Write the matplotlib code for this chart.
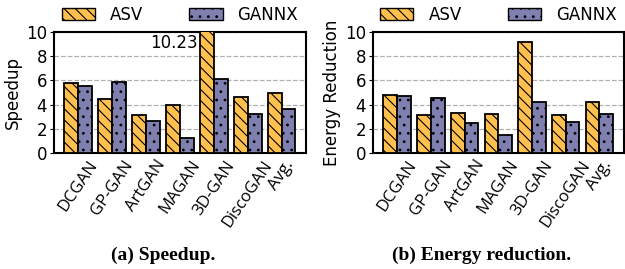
import numpy as np
import matplotlib
matplotlib.use("Agg")
from matplotlib import pyplot as plt
from matplotlib.patches import Patch

models = ["DCGAN", "GP-GAN", "ArtGAN", "MAGAN", "3D-GAN", "DiscoGAN", "Avg."]
speedup_asv = [5.75, 4.44, 3.15, 3.97, 10.23, 4.6, 4.93]
speedup_gannx = [5.53, 5.86, 2.63, 1.26, 6.1, 3.2, 3.64]
energy_asv = [4.8, 3.15, 3.34, 3.23, 9.12, 3.12, 4.19]
energy_gannx = [4.71, 4.52, 2.52, 1.5, 4.22, 2.6, 3.2]

orange = "#FFC04D"
purple = "#7F80B0"
plt.rcParams["hatch.linewidth"] = 0.8
plt.rcParams["font.size"] = 12

fig = plt.figure(figsize=(6.25, 2.69), dpi=100)
ax1 = fig.add_axes([0.0864, 0.430, 0.403, 0.452])
ax2 = fig.add_axes([0.5968, 0.430, 0.401, 0.452])

x = np.arange(len(models))
w = 0.41


def draw(ax, asv, gannx, ylabel):
    ax.bar(x - w / 2, asv, w, color=orange, edgecolor="black", linewidth=1.3,
           hatch="\\\\\\", zorder=3)
    ax.bar(x + w / 2, gannx, w, color=purple, edgecolor="black", linewidth=1.3,
           hatch="..", zorder=3)
    ax.set_ylim(0, 10)
    ax.set_xlim(-0.72, 6.72)
    ax.set_yticks([0, 2, 4, 6, 8, 10])
    ax.yaxis.grid(True, linestyle="--", color="#b0b0b0", linewidth=0.9, zorder=0)
    ax.set_xticks(x)
    ax.set_xticklabels(models, rotation=56, ha="center", family="Open Sans",
                       fontsize=12)
    ax.tick_params(axis="x", length=0, pad=3)
    ax.tick_params(axis="y", length=3, pad=2)
    for s in ax.spines.values():
        s.set_linewidth(1.5)
    ax.set_ylabel(ylabel, labelpad=3)
    handles = [Patch(facecolor=orange, edgecolor="black", hatch="\\\\\\", label="ASV"),
               Patch(facecolor=purple, edgecolor="black", hatch="..", label="GANNX")]
    ax.legend(handles=handles, ncol=2, frameon=False, loc="lower center",
              bbox_to_anchor=(0.5, 1.01), handlelength=2.0, handleheight=0.8,
              columnspacing=2.75, handletextpad=0.9, borderaxespad=0)


draw(ax1, speedup_asv, speedup_gannx, "Speedup")
draw(ax2, energy_asv, energy_gannx, "Energy Reduction")
ax1.text(x[4] - w / 2 - 0.27, 9.1, "%.2f" % speedup_asv[4], ha="right", va="center")

fig.text(0.261, 0.05, "(a) Speedup.", ha="center", va="center", fontsize=14,
         fontweight="bold", family="Liberation Serif")
fig.text(0.771, 0.05, "(b) Energy reduction.", ha="center", va="center", fontsize=14,
         fontweight="bold", family="Liberation Serif")

fig.savefig("out.png", dpi=100)
